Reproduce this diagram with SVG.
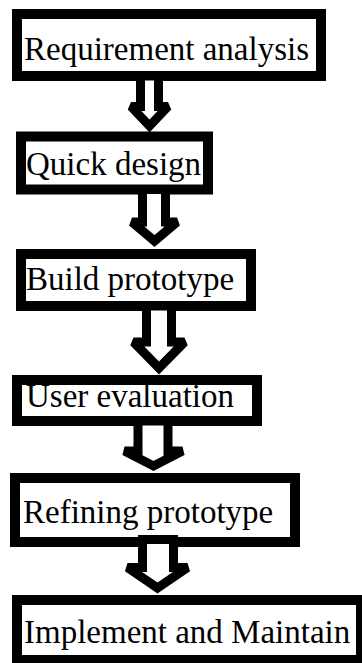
<svg xmlns="http://www.w3.org/2000/svg" width="362" height="663" viewBox="0 0 362 663">
<style>
.box{fill:#fff;stroke:#000;stroke-width:10}
.lbl{font-size:33px;fill:#000}
.arr{fill:#fff;stroke:#000;stroke-width:9;stroke-linejoin:miter;stroke-miterlimit:2}
</style>
<rect width="362" height="663" fill="#fff"/>
<g font-family="Liberation Serif, Times New Roman, Tinos, Nimbus Roman, DejaVu Serif, serif">
<g id="n1"><rect class="box" x="17" y="14" width="304" height="62"/><text class="lbl" x="24" y="60">Requirement analysis</text></g>
<g id="n2"><rect class="box" x="21" y="136.5" width="187" height="53"/><text class="lbl" x="26" y="175">Quick design</text></g>
<g id="n3"><rect class="box" x="21" y="254" width="230" height="52"/><text class="lbl" x="26" y="290">Build prototype</text></g>
<g id="n4"><rect class="box" x="17" y="380" width="240" height="41"/><text class="lbl" x="26" y="407">User evaluation</text></g>
<g id="n5"><rect class="box" x="15" y="478" width="280" height="64"/><text class="lbl" x="23" y="523">Refining prototype</text></g>
<g id="n6"><rect class="box" x="17" y="600" width="344" height="60"/><text class="lbl" x="24" y="643">Implement and Maintain</text></g>
</g>
<g id="connectors">
<path class="arr" d="M140.5,76 L140.5,106.5 L131,106.5 L149.5,126 L168,106.5 L158.5,106.5 L158.5,76 Z"/>
<path class="arr" d="M142.5,189.5 L142.5,222 L132,222 L154.5,241 L177,222 L165.5,222 L165.5,189.5 Z"/>
<path class="arr" d="M146.5,306 L146.5,342 L133.5,342 L159,368 L184.5,342 L171.5,342 L171.5,306 Z"/>
<path class="arr" d="M138,421 L138,451 L124.5,451 L153.5,466 L182.5,451 L168,451 L168,421 Z"/>
<path class="arr" d="M142.5,539.5 L142.5,567.5 L127.5,567.5 L157.5,588 L187.5,567.5 L173.5,567.5 L173.5,539.5 Z"/>
</g>
</svg>
